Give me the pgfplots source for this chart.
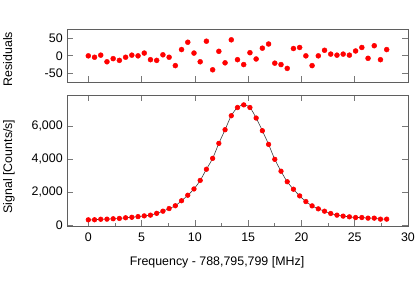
\documentclass[border=0pt]{standalone}
\usepackage{fontspec}
\setmainfont{Liberation Sans}
\usepackage{pgfplots}
\usepackage{pgfplotstable}
\pgfplotsset{compat=1.18}
\definecolor{framegray}{RGB}{95,95,95}
\definecolor{tickgray}{RGB}{120,120,120}
\definecolor{fitgray}{RGB}{60,60,60}
\definecolor{dotred}{RGB}{255,0,0}

\pgfplotstableread{
x y
0 315
0.5833 320
1.1667 350
1.75 357
2.3333 380
2.9167 400
3.5 440
4.0833 470
4.6667 510
5.25 555
5.8333 600
6.4167 710
7 840
7.5833 1000
8.1667 1170
8.75 1475
9.3333 1810
9.9167 2190
10.5 2710
11.0833 3390
11.6667 4050
12.25 4960
12.8333 5790
13.4167 6640
14 7140
14.5833 7300
15.1667 7140
15.75 6500
16.3333 5730
16.9167 4900
17.5 3990
18.0833 3270
18.6667 2630
19.25 2175
19.8333 1770
20.4167 1425
21 1163
21.5833 982
22.1667 840
22.75 700
23.3333 600
23.9167 540
24.5 497
25.0833 455
25.6667 455
26.25 418
26.8333 418
27.4167 357
28 357
}\signal

\pgfplotstableread{
x r
0 0
0.5833 -4
1.1667 2
1.75 -17
2.3333 -8
2.9167 -13
3.5 -4
4.0833 2
4.6667 0
5.25 8
5.8333 -11
6.4167 -13
7 3
7.5833 -4
8.1667 -28
8.75 18
9.3333 39
9.9167 8
10.5 -17
11.0833 42
11.6667 -40
12.25 13
12.8333 -20
13.4167 46
14 -11
14.5833 -25
15.1667 9
15.75 -9
16.3333 22
16.9167 34
17.5 -21
18.0833 -25
18.6667 -36
19.25 21
19.8333 24
20.4167 0
21 -28
21.5833 0
22.1667 16
22.75 5
23.3333 2
23.9167 5
24.5 2
25.0833 14
25.6667 24
26.25 -7
26.8333 29
27.4167 -11
28 18
}\resid

\pgfplotsset{mystyle/.style={
  scale only axis,
  width=341bp,
  xmin=-2, xmax=30,
  axis line style={framegray, line width=0.8pt},
  tick style={tickgray, line width=0.7pt},
  tick align=inside,
  major tick length=6bp,
  minor tick length=3bp,
  scaled y ticks=false,
  scaled x ticks=false,
  /pgf/number format/assume math mode=true,
  /pgf/number format/1000 sep={,},
  yticklabel style={/pgf/number format/fixed},
  ylabel style={at={(axis description cs:-0.161,0.5)}, anchor=base},
}}

\begin{document}
\fontsize{12.4bp}{15bp}\selectfont
\begin{tikzpicture}
\path[use as bounding box] (-67bp,-59bp) rectangle (348bp,226bp);

\begin{axis}[mystyle,
  at={(0bp,144bp)}, anchor=south west,
  height=53bp,
  ymin=-75, ymax=77,
  ytick={-50,0,50},
  xtick={0,5,...,30},
  xticklabels={},
  xtick pos=left,
  ytick pos=both,
  ylabel={Residuals},
  ylabel style={at={(axis description cs:-0.161,0.43)}},
]
\addplot[only marks, mark=*, mark size=2.5bp, mark options={draw=dotred, fill=dotred}] table[x=x, y=r] {\resid};
\end{axis}

\begin{axis}[mystyle,
  at={(0bp,0bp)}, anchor=south west,
  height=131bp,
  ymin=-60, ymax=7900,
  ytick={0,2000,4000,6000},
  xtick={0,5,...,30},
  xtick pos=both,
  ytick pos=both,
  extra x ticks={2.5,7.5,12.5,17.5,22.5,27.5},
  extra x tick labels={},
  extra x tick style={xtick pos=left, major tick length=3bp},
  xticklabel style={yshift=-3bp},
  ylabel={Signal [Counts/s]},
  ylabel style={at={(axis description cs:-0.161,0.454)}},
  xlabel={Frequency - 788,795,799 [MHz]},
  xlabel style={at={(axis description cs:0.44,-0.305)}, anchor=base},
]
\addplot[fitgray, line width=0.6pt, smooth, mark=*, mark size=2.3bp, mark options={draw=dotred, fill=dotred}] table[x=x, y=y] {\signal};
\end{axis}
\end{tikzpicture}
\end{document}
